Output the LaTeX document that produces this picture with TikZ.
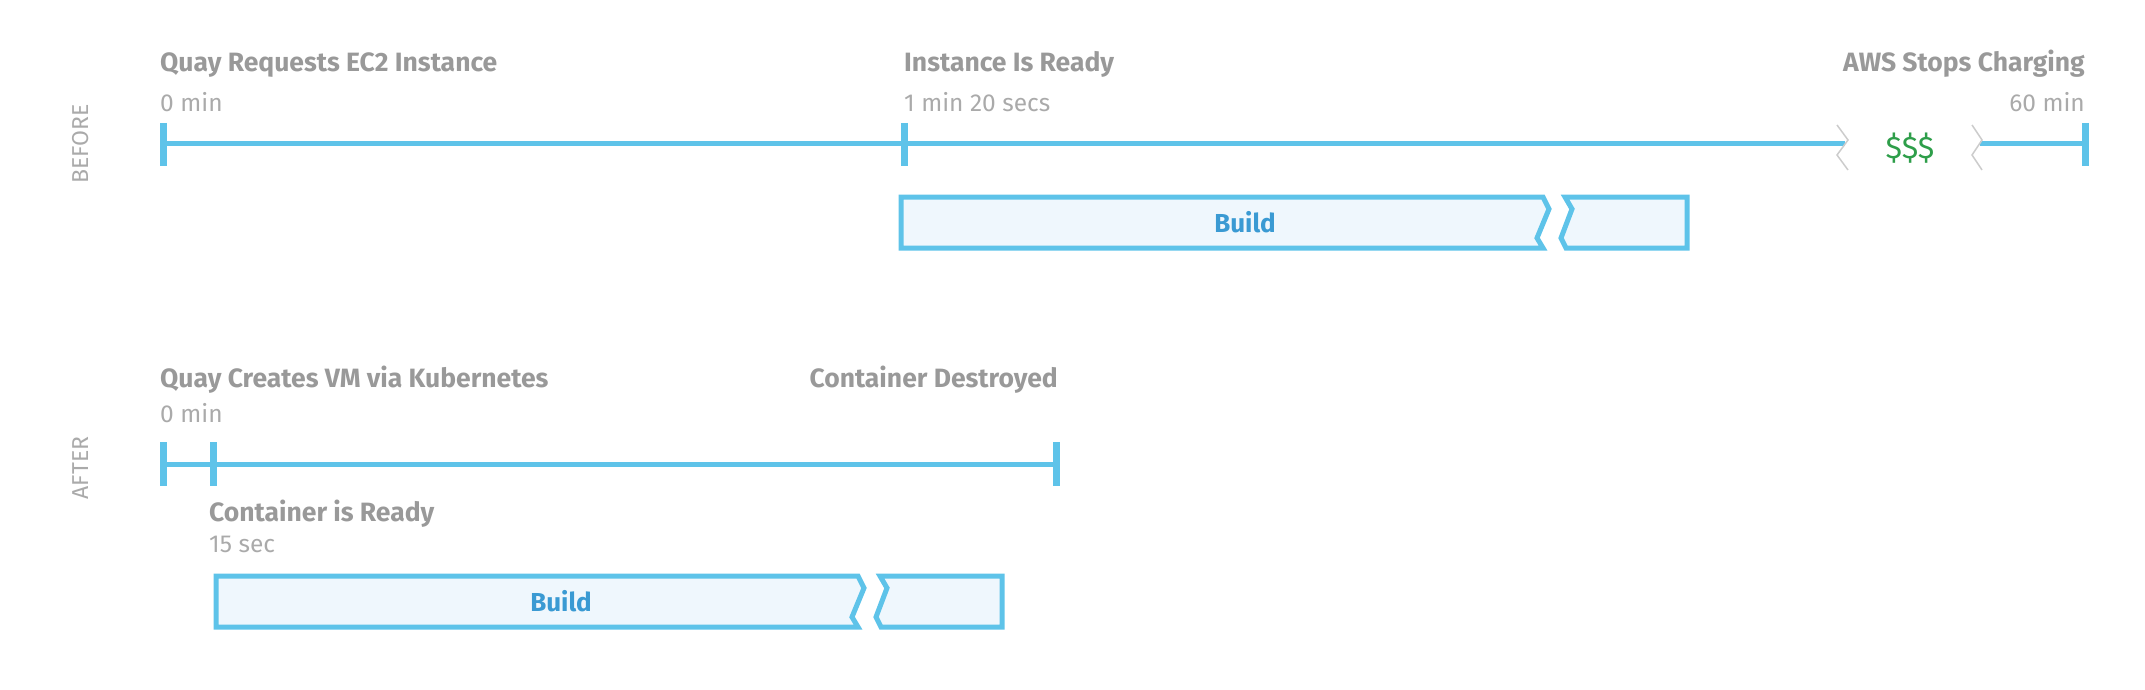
\documentclass[tikz,border=0pt]{standalone}
\usepackage{fontspec}
\setmainfont{Fira Sans}
\begin{document}
\begin{tikzpicture}[x=1pt,y=-1pt,
  tl/.style={draw=lblue,line width=5pt},
  tk/.style={draw=lblue,line width=7pt},
  bx/.style={draw=lblue,line width=5pt,fill=lfill,line join=miter},
  ttl/.style={text=tgray,font=\fontsize{26.5}{30}\selectfont\bfseries,inner sep=0pt},
  tm/.style={text=lgray,font=\fontsize{24.5}{28}\selectfont,inner sep=0pt},
  brk/.style={draw=bgray,line width=1.5pt},
  lbl/.style={text=lgray,font=\fontsize{23}{28}\selectfont,rotate=90,inner sep=0pt}]
\definecolor{lblue}{HTML}{5EC3E9}
\definecolor{lfill}{HTML}{EFF7FD}
\definecolor{tgray}{HTML}{999999}
\definecolor{lgray}{HTML}{AAAAAA}
\definecolor{bgray}{HTML}{CCCCCC}
\definecolor{bblue}{HTML}{3A9AD3}
\definecolor{green}{HTML}{2E9E4A}
\useasboundingbox (0,0) rectangle (2145,690);
% BEFORE
\node[lbl] (lb) at (81,144) {BEFORE};
\coordinate (a0) at (163,144); \coordinate (a1) at (904,144);
\coordinate (a2) at (1845,144); \coordinate (a3) at (1980,144); \coordinate (a4) at (2085,144);
\draw[tl] (a0) -- (a2); \draw[tl] (a3) -- (a4);
\draw[tk] (163,123) -- (163,166); \draw[tk] (904,123) -- (904,166); \draw[tk] (2085,123) -- (2085,166);
\draw[brk] (1837,125) -- (1848,140) -- (1837,155) -- (1848,170);
\draw[brk] (1972,125) -- (1982,140) -- (1972,155) -- (1982,170);
\node[text=green,font=\fontsize{31}{34}\selectfont] (dol) at (1910,148) {\$\$\$};
\node[ttl,anchor=base west] (t1) at (160,72) {Quay Requests EC2 Instance};
\node[tm,anchor=base west] (m1) at (160,112) {0 min};
\node[ttl,anchor=base west] (t2) at (904,72) {Instance Is Ready};
\node[tm,anchor=base west] (m2) at (904,112) {1 min 20 secs};
\node[ttl,anchor=base east] (t3) at (2085,72) {AWS Stops Charging};
\node[tm,anchor=base east] (m3) at (2085,112) {60 min};
\draw[bx] (901,197) -- (1543,197) -- (1549,209) -- (1537,238) -- (1543,248) -- (901,248) -- cycle;
\draw[bx] (1565,197) -- (1687,197) -- (1687,248) -- (1566,248) -- (1561,238) -- (1572,209) -- cycle;
\node[text=bblue,font=\fontsize{26}{30}\selectfont\bfseries] (b1) at (1245,222) {Build};
% AFTER
\node[lbl] (la) at (81,468) {AFTER};
\coordinate (c0) at (163,464); \coordinate (c1) at (213,464); \coordinate (c2) at (1056,464);
\draw[tl] (c0) -- (c2);
\draw[tk] (163,442) -- (163,486); \draw[tk] (213,442) -- (213,486); \draw[tk] (1056,442) -- (1056,486);
\node[ttl,anchor=base west] (t4) at (160,387) {Quay Creates VM via Kubernetes};
\node[tm,anchor=base west] (m4) at (160,422) {0 min};
\node[ttl,anchor=base east] (t5) at (1058,387) {Container Destroyed};
\node[ttl,anchor=base west] (t6) at (209,521) {Container is Ready};
\node[tm,anchor=base west] (m6) at (209,552) {15 sec};
\begin{scope}[shift={(-685,379)}]
\draw[bx] (901,197) -- (1543,197) -- (1549,209) -- (1537,238) -- (1543,248) -- (901,248) -- cycle;
\draw[bx] (1565,197) -- (1687,197) -- (1687,248) -- (1566,248) -- (1561,238) -- (1572,209) -- cycle;
\end{scope}
\node[text=bblue,font=\fontsize{26}{30}\selectfont\bfseries] (b2) at (561,601) {Build};
\end{tikzpicture}
\end{document}
